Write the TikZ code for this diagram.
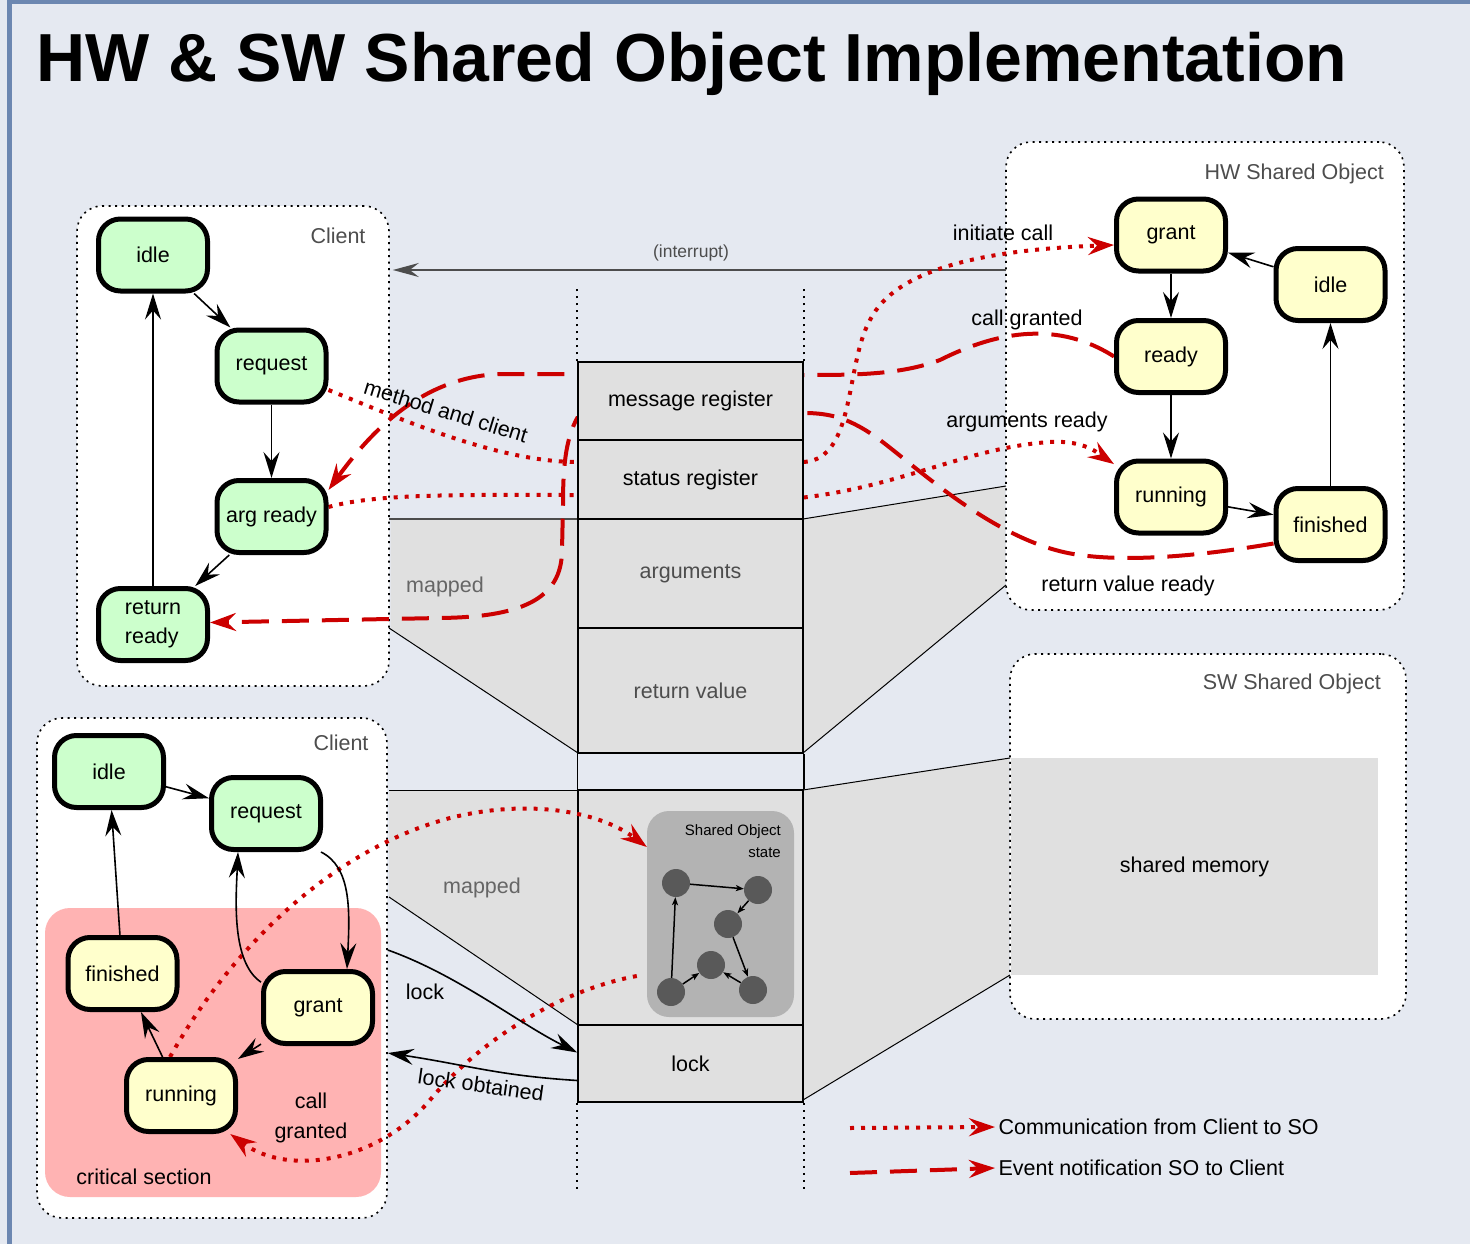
\documentclass[tikz,border=0pt]{standalone}
\usepackage{fontspec}
\setmainfont{Liberation Sans}
\usetikzlibrary{arrows.meta,calc}
\pgfdeclarelayer{base}
\pgfdeclarelayer{links}
\pgfsetlayers{base,links,main}

\definecolor{bg}{HTML}{E5E9F1}
\definecolor{framecol}{HTML}{6C87B1}
\definecolor{clientgreen}{HTML}{CCFFCC}
\definecolor{soyellow}{HTML}{FFFFCC}
\definecolor{critpink}{HTML}{FFB3B3}
\definecolor{reggray}{HTML}{E0E0E0}
\definecolor{stategray}{HTML}{B3B3B3}
\definecolor{dotgray}{HTML}{595959}
\definecolor{sored}{HTML}{CC0000}
\definecolor{labelgray}{HTML}{4D4D4D}
\definecolor{mapgray}{HTML}{666666}

\tikzset{
  txt/.style={font=\fontsize{21.5}{29}\selectfont},
  fsm/.style={txt, draw=black, line width=5pt, rounded corners=22pt,
    minimum width=109pt, minimum height=72pt, inner sep=2pt, align=center},
  cfsm/.style={fsm, fill=clientgreen},
  sfsm/.style={fsm, fill=soyellow},
  gbox/.style={draw=black, fill=white, line width=1.6pt,
    dash pattern=on 2pt off 4.5pt, rounded corners=25pt, inner sep=0pt},
  reg/.style={txt, draw=black, fill=reggray, line width=1.5pt, inner sep=0pt,
    minimum width=225pt},
  vdots/.style={line width=2pt, dash pattern=on 2pt off 5pt},
  arr/.style={line width=1.6pt, -{Stealth[length=26pt,width=16pt,inset=9pt]}},
  smallarr/.style={line width=1.5pt, -{Stealth[length=8pt,width=6pt,inset=2pt]}},
  sodot/.style={circle, fill=dotgray, minimum size=28pt, inner sep=0pt},
  cmsg/.style={sored, line width=4pt, dash pattern=on 4pt off 7pt},
  cmsgarr/.style={cmsg, -{Stealth[length=26pt,width=18pt,inset=9pt]}},
  evt/.style={sored, line width=4pt, dash pattern=on 27pt off 13pt},
  evtarr/.style={evt, -{Stealth[length=26pt,width=18pt,inset=9pt]}},
  lbl/.style={txt, inner sep=0pt},
  grey lbl/.style={lbl, text=labelgray},
}

\begin{document}
\begin{tikzpicture}[x=1pt,y=-1pt]
\useasboundingbox (0,0) rectangle (1470,1244);

% ---------------- background, frame, containers ----------------
\begin{pgfonlayer}{base}
  \fill[bg] (0,0) rectangle (1470,1244);
  \draw[framecol, line width=4.5pt] (9.5,1260) -- (9.5,1.5) -- (1490,1.5);

  \node[gbox, minimum width=312pt, minimum height=480pt] (ctop)  at (233,446) {};
  \node[gbox, minimum width=398pt, minimum height=468pt] (hwbox) at (1205,376) {};
  \node[gbox, minimum width=396pt, minimum height=365pt] (swbox) at (1208,836.5) {};
  \node[gbox, minimum width=350pt, minimum height=500pt] (cbot)  at (212,968) {};

  % mapped regions between the register file and its users
  \fill[reggray] (390.5,519) -- (578,519) -- (578,753) -- (390.5,628) -- cycle;
  \draw[line width=1.5pt, black!70] (389,519) -- (578,519);
  \draw[line width=1pt] (389,628) -- (578,753);

  \fill[reggray] (803,519) -- (1005,486) -- (1005,585) -- (803,753) -- cycle;
  \draw[line width=1pt] (803,519) -- (1006,486);
  \draw[line width=1pt] (1006,585) -- (803,753);

  \fill[reggray] (389,790) -- (578,790) -- (578,1025) -- (389,897) -- cycle;
  \draw[line width=1pt] (389,790) -- (578,790);
  \draw[line width=1pt] (389,897) -- (578,1025);

  \fill[reggray] (803,790) -- (1009,758) -- (1009,975) -- (803,1100) -- cycle;
  \draw[line width=1pt] (803,790) -- (1010,758);
  \draw[line width=1pt] (1010,975) -- (803,1100);

  \node[fill=critpink, rounded corners=25pt, minimum width=336pt,
        minimum height=289pt, inner sep=0pt] (crit) at (213,1052.5) {};

  \node[txt, fill=reggray, minimum width=367pt, minimum height=217pt,
        inner sep=0pt] (shmem) at (1194.5,866.5) {shared memory};

  % shared-memory slot of the register column (links run over it)
  \node[reg, minimum height=235pt] (sosreg) at (690.5,907.5) {};

  % interrupt line from the HW object back to the client
  \coordinate (irq) at (1006,270);
  \draw[labelgray, line width=2pt, -{Stealth[length=26pt,width=14pt,inset=9pt]}]
    (irq) -- ([xshift=3pt]irq -| ctop.east);
\end{pgfonlayer}

% ---------------- title ----------------
\node[anchor=base west, inner sep=0pt, font=\fontsize{68}{78}\selectfont\bfseries]
  (title) at (36,82) {HW \& SW Shared Object Implementation};

% ---------------- register file ----------------
\node[reg, minimum height=78pt]  (msg)    at (690.5,401)   {message register};
\node[reg, minimum height=79pt]  (status) at (690.5,479.5) {status register};
\node[reg, minimum height=109pt, text=labelgray] (args) at (690.5,573.5) {arguments};
\node[reg, minimum height=125pt, text=labelgray] (retv) at (690.5,690.5) {return value};
\node[reg, minimum height=77pt]  (lockr)  at (690.5,1063.5) {lock};
\draw[line width=1.5pt] (retv.south west) -- (sosreg.north west);
\draw[line width=1.5pt] (retv.south east) -- (sosreg.north east);

\draw[vdots] (msg.north west) -- ++(0,-75);
\draw[vdots] (msg.north east) -- ++(0,-75);
\draw[vdots] (lockr.south west) -- ++(0,90);
\draw[vdots] (lockr.south east) -- ++(0,90);

% shared object state machine kept in memory
\node[fill=stategray, rounded corners=22pt, minimum width=147pt,
      minimum height=206pt, inner sep=0pt] (sos) at (720.5,914) {};
\node[anchor=north east, align=right, inner sep=0pt,
      font=\fontsize{15}{22}\selectfont] (sostitle) at (781,824) {Shared Object\\state};
\node[sodot] (d1) at (676,883) {};
\node[sodot] (d2) at (758,890) {};
\node[sodot] (d3) at (728,924) {};
\node[sodot] (d4) at (711,965) {};
\node[sodot] (d5) at (671,992) {};
\node[sodot] (d6) at (753,990) {};
\draw[smallarr] (d1) -- (d2);
\draw[smallarr] (d2) -- (d3);
\draw[smallarr] (d3) -- (d6);
\draw[smallarr] (d6) -- (d4);
\draw[smallarr] (d5) -- (d4);
\draw[smallarr] (d5) -- (d1);

% ---------------- client (HW object) ----------------
\node[grey lbl] (ctoplbl) at (338,236) {Client};
\node[cfsm] (cidle) at (153,255)     {idle};
\node[cfsm] (creq)  at (271.5,366)   {request};
\node[cfsm] (cargr) at (271.5,516.5) {arg ready};
\node[cfsm, align=left] (cret) at (153,624.5) {return\\ready};
\draw[arr] (cidle) -- (creq);
\draw[arr] (creq) -- (cargr);
\draw[arr] (cargr) -- (cret);
\draw[arr] (cret) -- (cidle);

% ---------------- HW shared object ----------------
\node[grey lbl, anchor=east] (hwlbl) at (1384,174) {HW Shared Object};
\node[sfsm] (hgrant) at (1171,235)     {grant};
\node[sfsm] (hready) at (1171,356.5)   {ready};
\node[sfsm] (hrun)   at (1171,497)     {running};
\node[sfsm] (hidle)  at (1330.5,284.5) {idle};
\node[sfsm] (hfin)   at (1330.5,524.5) {finished};
\draw[arr] (hgrant) -- (hready);
\draw[arr] (hready) -- (hrun);
\draw[arr] (hrun) -- (hfin);
\draw[arr] (hfin) -- (hidle);
\draw[arr] (hidle) -- (hgrant);

% ---------------- SW shared object ----------------
\node[grey lbl, anchor=east] (swlbl) at (1381,684) {SW Shared Object};

% ---------------- client (SW object) ----------------
\node[grey lbl] (cbotlbl) at (341,743) {Client};
\node[lbl] (critlbl) at (144,1177) {critical section};
\node[cfsm] (bidle)  at (109,771.5)   {idle};
\node[cfsm] (breq)   at (266,813.5)   {request};
\node[sfsm] (bfin)   at (122.5,973.5) {finished};
\node[sfsm] (bgrant) at (318,1007.5)  {grant};
\node[sfsm] (brun)   at (181,1095.5)  {running};
\draw[arr] (bidle) -- (breq);
\draw[arr] (bfin) -- (bidle);
\draw[arr] (bgrant) -- (brun);
\draw[arr] (brun) -- (bfin);
\draw[arr] (breq.-35) .. controls +(30,15) and +(3,-60) .. ([xshift=29pt]bgrant.north);
\draw[arr] (bgrant.156) .. controls +(-30,-20) and +(-2,45) .. ([xshift=-28pt]breq.south);

% lock handshake
\draw[arr] ([yshift=18pt]cbot.east) .. controls +(70,25) and +(-60,-30) .. ([yshift=11pt]lockr.west);
\draw[arr] ([yshift=-17pt]lockr.west) .. controls +(-80,-5) and +(80,12) .. ([yshift=-85pt]cbot.east);
\node[lbl] (locklbl) at (425,992) {lock};
\node[lbl, rotate=-8] (obtlbl) at (481,1085) {lock obtained};

% ---------------- text on the connectors ----------------
\node[lbl, font=\fontsize{17.5}{20}\selectfont, text=labelgray] (irqlbl) at (691,253) {(interrupt)};
\node[lbl, rotate=-17] (mclbl) at (446,411) {method and client};
\node[lbl] (iclbl) at (1003,233) {initiate call};
\node[lbl] (cglbl) at (1027,320) {call granted};
\node[lbl] (arlbl) at (1027,422) {arguments ready};
\node[lbl] (rvlbl) at (1128,586) {return value ready};
\node[lbl, text=mapgray] (map1) at (445,587) {mapped};
\node[lbl, text=mapgray] (map2) at (482,888) {mapped};
\node[lbl, align=center, font=\fontsize{21.5}{30}\selectfont] (cg2lbl) at (311,1118) {call\\granted};

% ---------------- legend ----------------
\coordinate (lgA) at (850,1128);
\coordinate (lgB) at (850,1173);
\node[txt, anchor=west] (lgAt) at (995,1127) {Communication from Client to SO};
\node[txt, anchor=west] (lgBt) at (995,1168) {Event notification SO to Client};

% ---------------- communication and events ----------------
\begin{pgfonlayer}{links}
  % client -> shared object
  \draw[cmsg] ([yshift=-24pt]creq.east) .. controls +(70,28) and +(-80,0) .. ([yshift=17.5pt]status.west);
  \draw[cmsg] ([yshift=9.5pt]cargr.east) .. controls +(50,-14) and +(-110,0) .. ([yshift=-15.5pt]status.west);
  \draw[cmsgarr] ([yshift=17.5pt]status.east) .. controls +(52,-3) and +(-25,45) .. (870,320)
     .. controls +(25,-50) and +(-134,5) .. ([yshift=-10pt]hgrant.west);
  \draw[cmsgarr] ([yshift=-18pt]status.east) .. controls +(100,-12) and +(-80,5) .. (1050,442)
     .. controls +(35,-2) and +(-15,-10) .. (hrun.150);
  \draw[cmsgarr] ([xshift=-11pt]brun.north) .. controls (230,950) and (330,850) .. (450,818)
     .. controls (530,798) and (600,812) .. ([yshift=67pt]sos.west);
  \draw[cmsgarr] ([xshift=-10pt,yshift=-62pt]sos.west) .. controls (560,990) and (480,1040) .. (430,1100)
     .. controls (380,1160) and (290,1178) .. (brun.-38);

  % shared object -> client
  \draw[evtarr] (hready.west) .. controls +(-55,-35) and +(60,-30) .. (940,360)
     .. controls +(-40,15) and +(50,0) .. ([yshift=26pt]msg.east)
     -- ([yshift=27pt]msg.west) -- (500,374)
     .. controls +(-80,3) and +(40,-55) .. (cargr.25);
  \draw[evtarr] ([yshift=-19pt]hfin.west) .. controls (1200,556) and (1130,562) .. (1080,555)
     .. controls (1000,545) and (920,470) .. (880,440)
     .. controls (850,418) and (830,413) .. ([yshift=-12pt]msg.east)
     -- ([yshift=-17pt]msg.west)
     .. controls (565,440) and (563,470) .. (563,505) -- (562,550)
     .. controls (562,600) and (520,617) .. (440,618) -- ([yshift=2pt]cret.east);

  % legend samples
  \draw[cmsgarr] (lgA) -- (lgAt.west);
  \draw[evtarr] (lgB) -- (lgBt.west);
\end{pgfonlayer}
\end{tikzpicture}
\end{document}
